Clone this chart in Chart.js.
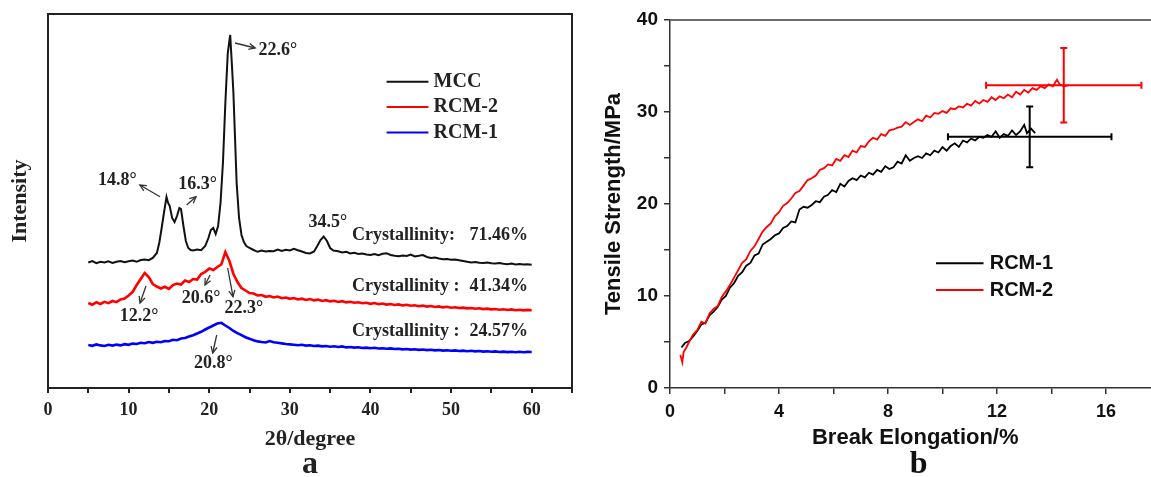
<!DOCTYPE html>
<html><head><meta charset="utf-8">
<script src="https://cdn.jsdelivr.net/npm/chart.js@4.4.0/dist/chart.umd.min.js"></script>
<style>
html,body{margin:0;padding:0;background:#fff;overflow:hidden;}
#wrap{position:relative;width:1151px;height:477px;overflow:hidden;background:#fff;}
#ca{position:absolute;left:0;top:0;}
#cb{position:absolute;left:580px;top:0;}
</style></head><body>
<div id="wrap"><canvas id="ca" width="580" height="477"></canvas><canvas id="cb" width="600" height="477"></canvas></div>
<script>
// ---------- Panel a: XRD patterns (2θ in degrees, intensity in a.u.) ----------
const mccPattern = [[5,1255],[5.5,1270],[6,1248],[6.5,1262],[7,1255],[7.5,1266],[8,1250],[8.5,1262],[9,1270],[9.5,1258],[10,1268],[10.5,1275],[11,1262],[11.5,1280],[12,1285],[12.5,1278],[13,1300],[13.5,1350],[13.8,1450],[14.1,1600],[14.4,1760],[14.7,1910],[14.9,1850],[15.1,1820],[15.4,1700],[15.7,1660],[16,1720],[16.3,1800],[16.5,1790],[16.8,1620],[17.1,1470],[17.4,1400],[17.7,1380],[18,1375],[18.5,1385],[19,1378],[19.5,1420],[19.9,1500],[20.2,1580],[20.5,1600],[20.8,1540],[21.1,1620],[21.4,1850],[21.7,2250],[22,2850],[22.3,3350],[22.6,3530],[22.8,3250],[23,2950],[23.2,2500],[23.4,2050],[23.7,1700],[24,1530],[24.3,1460],[24.6,1420],[25,1400],[25.5,1380],[26,1362],[26.5,1375],[27,1365],[27.5,1370],[28,1368],[28.5,1385],[29,1370],[29.5,1382],[30,1375],[30.5,1392],[31,1378],[31.5,1365],[32,1350],[32.5,1345],[33,1365],[33.4,1420],[33.8,1480],[34.2,1515],[34.6,1470],[35,1400],[35.4,1375],[36,1368],[36.5,1355],[37,1362],[37.5,1345],[38,1352],[38.5,1340],[39,1345],[39.5,1336],[40,1330],[40.5,1340],[41,1328],[41.5,1342],[42,1348],[42.5,1330],[43,1322],[43.5,1318],[44,1325],[44.5,1320],[45,1335],[45.5,1315],[46,1322],[46.5,1330],[47,1310],[47.5,1300],[48,1305],[48.5,1295],[49,1288],[49.5,1290],[50,1282],[50.5,1285],[51,1278],[51.5,1270],[52,1262],[52.5,1255],[53,1260],[53.5,1252],[54,1250],[54.5,1256],[55,1248],[55.5,1244],[56,1250],[56.5,1242],[57,1238],[57.5,1244],[58,1236],[58.5,1240],[59,1234],[59.5,1238],[60,1232]];
const rcm2Pattern = [[5,850],[5.5,832],[6,858],[6.5,840],[7,862],[7.5,848],[8,870],[8.5,858],[9,885],[9.5,895],[10,925],[10.5,960],[11,1030],[11.5,1090],[12,1150],[12.5,1110],[13,1040],[13.5,1015],[14,995],[14.5,1012],[15,990],[15.5,1030],[16,1045],[16.5,1035],[17,1075],[17.5,1060],[18,1090],[18.5,1085],[19,1140],[19.5,1160],[20,1195],[20.5,1180],[21,1210],[21.5,1235],[22,1360],[22.5,1270],[23,1140],[23.5,1060],[24,1000],[24.5,975],[25,950],[25.5,945],[26,925],[26.5,930],[27,912],[27.5,920],[28,905],[28.5,915],[29,898],[29.5,905],[30,892],[30.5,900],[31,885],[31.5,893],[32,880],[32.5,890],[33,876],[33.5,884],[34,870],[34.5,878],[35,866],[35.5,872],[36,860],[36.5,868],[37,856],[37.5,862],[38,852],[38.5,858],[39,848],[39.5,852],[40,842],[40.5,850],[41,838],[41.5,845],[42,834],[42.5,840],[43,830],[43.5,836],[44,826],[44.5,832],[45,822],[45.5,828],[46,818],[46.5,824],[47,814],[47.5,820],[48,810],[48.5,816],[49,806],[49.5,812],[50,802],[50.5,808],[51,800],[51.5,804],[52,796],[52.5,800],[53,792],[53.5,797],[54,789],[54.5,794],[55,786],[55.5,790],[56,783],[56.5,788],[57,780],[57.5,786],[58,778],[58.5,783],[59,776],[59.5,781],[60,778]];
const rcm1Pattern = [[5,430],[5.5,422],[6,436],[6.5,426],[7,420],[7.5,432],[8,424],[8.5,434],[9,426],[9.5,438],[10,432],[10.5,444],[11,440],[11.5,452],[12,448],[12.5,460],[13,452],[13.5,462],[14,458],[14.5,470],[15,468],[15.5,482],[16,478],[16.5,495],[17,500],[17.5,515],[18,528],[18.5,545],[19,562],[19.5,585],[20,605],[20.5,625],[21,645],[21.5,652],[22,625],[22.5,600],[23,570],[23.5,548],[24,528],[24.5,508],[25,492],[25.5,478],[26,466],[26.5,460],[27,455],[27.5,470],[28,458],[28.5,452],[29,446],[29.5,440],[30,436],[30.5,432],[31,428],[31.5,432],[32,424],[32.5,428],[33,420],[33.5,424],[34,416],[34.5,420],[35,412],[35.5,418],[36,410],[36.5,416],[37,406],[37.5,410],[38,404],[38.5,408],[39,400],[39.5,404],[40,398],[40.5,402],[41,395],[41.5,398],[42,392],[42.5,396],[43,390],[43.5,393],[44,386],[44.5,390],[45,384],[45.5,388],[46,381],[46.5,385],[47,379],[47.5,383],[48,376],[48.5,380],[49,374],[49.5,378],[50,372],[50.5,376],[51,370],[51.5,374],[52,368],[52.5,372],[53,366],[53.5,370],[54,364],[54.5,368],[55,362],[55.5,366],[56,360],[56.5,364],[57,359],[57.5,363],[58,358],[58.5,362],[59,357],[59.5,361],[60,360]];
const xrdNames = ['MCC', 'RCM-2', 'RCM-1'];
const xrdColors = ['#111111', '#ff0000', '#0000ff'];
const xrdTickLabels = [0, 10, 20, 30, 40, 50, 60];

// peak annotations: label position and arrow (tail -> head), all in data units
const peakLabels = ['22.6°', '14.8°', '16.3°', '34.5°', '12.2°', '20.6°', '22.3°', '20.8°'];
const peakLabelX = [28.5, 8.6, 18.55, 34.7, 11.3, 19.0, 24.3, 20.5];
const peakLabelI = [3380, 2080, 2040, 1660, 713, 900, 800, 250];
const arrowTail = [[23.2,3450],[13.9,1913],[17.2,1830],null,[12.16,1020],[20.1,1130],[22.29,1200],[20.93,530]];
const arrowHead = [[25.7,3400],[11.4,2030],[18.36,1913],null,[11.41,850],[19.48,1030],[22.95,913],[20.43,350]];
const crystLabels = ['Crystallinity:', 'Crystallinity :', 'Crystallinity :'];
const crystValues = ['71.46%', '41.34%', '24.57%'];
const crystI = [1530, 1013, 563];

// ---------- Panel b: tensile curves (elongation %, strength MPa) ----------
const rcm1Curve = [[0.42,4.4],[0.55,4.9],[0.7,5.1],[0.85,5.6],[1.0,6.2],[1.15,6.9],[1.3,7.1],[1.45,7.9],[1.6,8.3],[1.75,8.8],[1.9,9.6],[2.05,10.0],[2.2,10.9],[2.35,11.4],[2.5,12.2],[2.65,12.6],[2.8,13.3],[2.95,13.6],[3.1,14.4],[3.25,14.6],[3.4,15.6],[3.55,15.9],[3.7,16.2],[3.85,16.6],[4.0,16.8],[4.15,17.4],[4.3,17.6],[4.45,18.1],[4.6,18.0],[4.75,19.4],[4.9,19.7],[5.05,19.6],[5.2,19.9],[5.35,20.3],[5.5,20.2],[5.65,20.8],[5.8,21.0],[5.95,21.5],[6.1,21.3],[6.25,22.2],[6.4,21.9],[6.55,22.5],[6.7,22.8],[6.85,22.6],[7.0,23.1],[7.15,22.9],[7.3,23.4],[7.45,23.2],[7.6,23.7],[7.75,23.5],[7.9,24.1],[8.05,23.8],[8.2,24.0],[8.35,24.6],[8.5,24.4],[8.65,25.3],[8.8,24.7],[8.95,25.0],[9.1,25.2],[9.25,25.0],[9.4,25.5],[9.55,25.3],[9.7,25.8],[9.85,25.6],[10.0,26.2],[10.15,25.8],[10.3,26.3],[10.45,26.6],[10.6,26.2],[10.75,26.9],[10.9,26.7],[11.05,27.1],[11.2,26.9],[11.35,27.3],[11.5,27.2],[11.65,27.5],[11.8,27.3],[11.95,27.9],[12.1,27.2],[12.25,27.6],[12.4,27.4],[12.55,28.0],[12.7,27.5],[12.85,27.9],[13.0,28.6],[13.1,27.7],[13.25,28.2],[13.4,27.7]];
const rcm2Curve = [[0.38,3.6],[0.45,2.8],[0.5,3.9],[0.6,4.4],[0.7,5.0],[0.85,5.8],[1.0,6.3],[1.15,7.2],[1.3,7.0],[1.45,8.1],[1.6,8.6],[1.75,8.9],[1.9,9.9],[2.05,10.5],[2.2,11.2],[2.35,12.0],[2.5,12.8],[2.65,13.6],[2.8,14.0],[2.95,14.9],[3.1,15.4],[3.25,16.2],[3.4,17.0],[3.55,17.5],[3.7,17.9],[3.85,18.7],[4.0,19.1],[4.15,19.8],[4.3,20.1],[4.45,20.6],[4.6,21.2],[4.75,21.4],[4.9,22.0],[5.05,22.6],[5.2,22.8],[5.35,23.1],[5.5,23.7],[5.65,23.9],[5.8,24.3],[5.95,24.2],[6.1,24.9],[6.25,24.7],[6.4,25.3],[6.55,25.1],[6.7,25.8],[6.85,25.6],[7.0,26.3],[7.15,26.2],[7.3,26.8],[7.45,27.2],[7.6,27.0],[7.75,27.6],[7.9,27.4],[8.05,28.0],[8.2,28.1],[8.35,28.3],[8.5,28.4],[8.65,28.9],[8.8,28.6],[8.95,28.9],[9.1,29.2],[9.25,29.0],[9.4,29.6],[9.55,29.4],[9.7,29.9],[9.85,29.8],[10.0,30.1],[10.15,29.9],[10.3,30.4],[10.45,30.3],[10.6,30.6],[10.75,30.5],[10.9,30.9],[11.05,30.7],[11.2,31.2],[11.35,30.9],[11.5,31.3],[11.65,31.1],[11.8,31.6],[11.95,31.3],[12.1,31.7],[12.25,31.5],[12.4,31.9],[12.55,31.6],[12.7,32.2],[12.85,31.9],[13.0,32.4],[13.15,32.1],[13.3,32.6],[13.45,32.4],[13.6,32.8],[13.75,32.6],[13.9,33.0],[14.05,32.8],[14.2,33.5],[14.3,33.0],[14.45,32.8],[14.6,32.9]];
const tensNames = ['RCM-1', 'RCM-2'];
const tensColors = ['#000000', '#ff0000'];
const errMeanX = [13.2, 14.45];
const errMeanY = [27.3, 32.9];
const errSdX = [3.0, 2.85];
const errSdY = [3.3, 4.05];
const tensXTickLabels = [0, 4, 8, 12, 16];
const tensYTickLabels = [0, 10, 20, 30, 40];

// ---------- helpers ----------
const SERIF = '"Liberation Serif", "Times New Roman", serif';
const SANS = '"Liberation Sans", Arial, sans-serif';
const toPts = arr => arr.map(p => ({x: p[0], y: p[1]}));

function arrow(ctx, x1, y1, x2, y2) {
  ctx.beginPath(); ctx.moveTo(x1, y1); ctx.lineTo(x2, y2); ctx.stroke();
  const ang = Math.atan2(y2 - y1, x2 - x1), L = 7, w = 0.45;
  ctx.beginPath();
  ctx.moveTo(x2 - L * Math.cos(ang - w), y2 - L * Math.sin(ang - w));
  ctx.lineTo(x2, y2);
  ctx.lineTo(x2 - L * Math.cos(ang + w), y2 - L * Math.sin(ang + w));
  ctx.stroke();
}

const panelA = {
  id: 'panelA',
  afterDraw(chart) {
    const {ctx, chartArea: a} = chart;
    const x = chart.scales.x, y = chart.scales.y;
    ctx.save();
    ctx.strokeStyle = '#222'; ctx.lineWidth = 2;
    ctx.strokeRect(a.left, a.top, a.right - a.left, a.bottom - a.top);
    // peak labels and arrows
    ctx.fillStyle = '#222'; ctx.strokeStyle = '#333'; ctx.lineWidth = 1.3;
    ctx.font = 'bold 18px ' + SERIF; ctx.textAlign = 'center'; ctx.textBaseline = 'middle';
    peakLabels.forEach((t, i) => {
      ctx.fillText(t, x.getPixelForValue(peakLabelX[i]), y.getPixelForValue(peakLabelI[i]));
      if (arrowTail[i]) {
        arrow(ctx, x.getPixelForValue(arrowTail[i][0]), y.getPixelForValue(arrowTail[i][1]),
                   x.getPixelForValue(arrowHead[i][0]), y.getPixelForValue(arrowHead[i][1]));
      }
    });
    // crystallinity
    ctx.textAlign = 'left';
    crystLabels.forEach((t, i) => {
      const py = y.getPixelForValue(crystI[i]);
      ctx.fillText(t, x.getPixelForValue(37.7), py);
      ctx.fillText(crystValues[i], x.getPixelForValue(52.3), py);
    });
    // legend
    ctx.font = 'bold 20px ' + SERIF;
    const rows = [81.7, 107, 132.5];
    chart.data.datasets.forEach((d, i) => {
      ctx.strokeStyle = d.borderColor; ctx.lineWidth = 2;
      ctx.beginPath(); ctx.moveTo(386.6, rows[i]); ctx.lineTo(428.4, rows[i]); ctx.stroke();
      ctx.fillStyle = '#222'; ctx.fillText(d.label, 433.6, rows[i]);
    });
    // panel letter
    ctx.font = 'bold 32px ' + SERIF; ctx.textAlign = 'center';
    ctx.fillText('a', 310, 465);
    ctx.restore();
  }
};

const panelB = {
  id: 'panelB',
  afterDraw(chart) {
    const {ctx, chartArea: a} = chart;
    const x = chart.scales.x, y = chart.scales.y;
    ctx.save();
    // top frame line
    ctx.strokeStyle = '#6a6a6a'; ctx.lineWidth = 2;
    ctx.beginPath(); ctx.moveTo(a.left, a.top); ctx.lineTo(a.right, a.top); ctx.stroke();
    // error bars
    errMeanX.forEach((mx, i) => {
      const cx = x.getPixelForValue(mx), cy = y.getPixelForValue(errMeanY[i]);
      const x1 = x.getPixelForValue(mx - errSdX[i]), x2 = x.getPixelForValue(mx + errSdX[i]);
      const y1 = y.getPixelForValue(errMeanY[i] - errSdY[i]), y2 = y.getPixelForValue(errMeanY[i] + errSdY[i]);
      ctx.strokeStyle = tensColors[i]; ctx.lineWidth = 2; const c = 3.5;
      ctx.beginPath();
      ctx.moveTo(x1, cy); ctx.lineTo(x2, cy);
      ctx.moveTo(cx, y1); ctx.lineTo(cx, y2);
      ctx.moveTo(x1, cy - c); ctx.lineTo(x1, cy + c);
      ctx.moveTo(x2, cy - c); ctx.lineTo(x2, cy + c);
      ctx.moveTo(cx - c, y1); ctx.lineTo(cx + c, y1);
      ctx.moveTo(cx - c, y2); ctx.lineTo(cx + c, y2);
      ctx.stroke();
    });
    // legend
    ctx.font = 'bold 20px ' + SANS; ctx.textAlign = 'left'; ctx.textBaseline = 'middle';
    const rows = [263.3, 290];
    tensNames.forEach((n, i) => {
      ctx.strokeStyle = tensColors[i]; ctx.lineWidth = 2;
      ctx.beginPath(); ctx.moveTo(356, rows[i]); ctx.lineTo(403.5, rows[i]); ctx.stroke();
      ctx.fillStyle = '#111'; ctx.fillText(n, 409.7, rows[i]);
    });
    ctx.font = 'bold 32px ' + SERIF; ctx.textAlign = 'center'; ctx.fillStyle = '#111';
    ctx.fillText('b', 338.7, 465);
    ctx.restore();
  }
};

// ---------- Chart a ----------
new Chart(document.getElementById('ca'), {
  type: 'line',
  data: {
    datasets: [mccPattern, rcm2Pattern, rcm1Pattern].map((s, i) => ({
      label: xrdNames[i], data: toPts(s), borderColor: xrdColors[i],
      borderWidth: i === 0 ? 2 : 2.6, pointRadius: 0, tension: 0, fill: false
    }))
  },
  options: {
    responsive: false, animation: false, devicePixelRatio: 1,
    layout: {padding: {left: 0, top: 14, right: 8, bottom: 0}},
    plugins: {legend: {display: false}, tooltip: {enabled: false}},
    scales: {
      x: {
        type: 'linear', min: 0, max: 65,
        afterFit(s) { s.height = 89; },
        ticks: {stepSize: 5, autoSkip: false, maxRotation: 0, padding: 7, color: '#222',
          font: {family: SERIF, size: 18, weight: 'bold'},
          callback: v => xrdTickLabels.includes(v) ? String(v) : ''},
        grid: {drawOnChartArea: false, drawTicks: true, tickLength: 5, color: '#222', lineWidth: 2},
        border: {display: false},
        title: {display: true, text: '2θ/degree', color: '#222',
          font: {family: SERIF, size: 22, weight: 'bold'}, padding: {top: 0, bottom: 24}}
      },
      y: {
        type: 'linear', min: 0, max: 3740,
        afterFit(s) { s.width = 48; },
        ticks: {display: false}, grid: {display: false}, border: {display: false},
        title: {display: true, text: 'Intensity', color: '#222',
          font: {family: SERIF, size: 22, weight: 'bold'}, padding: {top: 7, bottom: 0}}
      }
    }
  },
  plugins: [panelA]
});

// ---------- Chart b ----------
new Chart(document.getElementById('cb'), {
  type: 'line',
  data: {
    datasets: [rcm1Curve, rcm2Curve].map((s, i) => ({
      label: tensNames[i], data: toPts(s), borderColor: tensColors[i],
      borderWidth: 1.8, pointRadius: 0, tension: 0, fill: false, order: i === 1 ? 0 : 1
    }))
  },
  options: {
    responsive: false, animation: false, devicePixelRatio: 1,
    layout: {padding: {left: 0, top: 20, right: 19.5, bottom: 0}},
    plugins: {legend: {display: false}, tooltip: {enabled: false}},
    scales: {
      x: {
        type: 'linear', min: 0, max: 18,
        afterFit(s) { s.height = 89; },
        ticks: {stepSize: 2, autoSkip: false, maxRotation: 0, padding: 7, color: '#111',
          font: {family: SANS, size: 18, weight: 'bold'},
          callback: v => tensXTickLabels.includes(v) ? String(v) : ''},
        grid: {drawOnChartArea: false, drawTicks: true, tickLength: 6, color: '#333', lineWidth: 1.5},
        border: {display: true, color: '#333', width: 1.5},
        title: {display: true, text: 'Break Elongation/%', color: '#111',
          font: {family: SANS, size: 22, weight: 'bold'}, padding: {top: 0, bottom: 26}}
      },
      y: {
        type: 'linear', min: 0, max: 40,
        afterFit(s) { s.width = 90; },
        ticks: {stepSize: 5, autoSkip: false, padding: 6, color: '#111',
          font: {family: SANS, size: 19, weight: 'bold'},
          callback: v => tensYTickLabels.includes(v) ? String(v) : ''},
        grid: {drawOnChartArea: false, drawTicks: true, tickLength: 6, color: '#333', lineWidth: 1.5},
        border: {display: true, color: '#333', width: 1.5},
        title: {display: true, text: 'Tensile Strength/MPa', color: '#111',
          font: {family: SANS, size: 22, weight: 'bold'}, padding: {top: 21, bottom: 0}}
      }
    }
  },
  plugins: [panelB]
});
</script>
</body></html>
